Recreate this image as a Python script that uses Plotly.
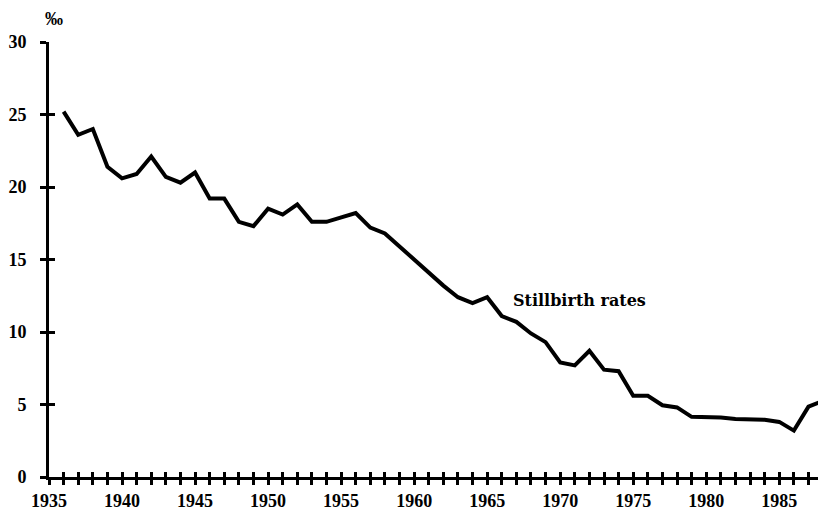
import plotly.graph_objects as go

years = list(range(1936, 1989))
stillbirth_rates = [
    25.2, 23.6, 24.0, 21.4, 20.6, 20.9, 22.1, 20.7, 20.3, 21.0,
    19.2, 19.2, 17.6, 17.3, 18.5, 18.1, 18.8, 17.6, 17.6, 17.9,
    18.2, 17.2, 16.8, 15.9, 15.0, 14.1, 13.2, 12.4, 12.0, 12.4,
    11.1, 10.7, 9.9, 9.3, 7.9, 7.7, 8.7, 7.4, 7.3, 5.6,
    5.6, 4.95, 4.8, 4.15, 4.15, 4.1, 4.0, 4.0, 3.95, 3.8,
    3.2, 4.85, 5.25,
]
x_tick_years = list(range(1935, 1989))
x_tick_text = [str(y) if y % 5 == 0 else "" for y in x_tick_years]
y_tick_vals = [0, 5, 10, 15, 20, 25, 30]
series_label = "Stillbirth rates"
unit_label = "‰"

FONT = "Liberation Serif"
LABEL_FONT = "DejaVu Serif"
X_RANGE = [1935, 1988.2]
Y_RANGE = [0, 30]

fig = go.Figure()
fig.add_trace(go.Scatter(
    x=years, y=stillbirth_rates, mode="lines",
    line=dict(color="black", width=4),
    showlegend=False, hoverinfo="skip", cliponaxis=False,
))
# invisible trace on overlay axes (inner half of crossing ticks)
fig.add_trace(go.Scatter(
    x=[years[0]], y=[stillbirth_rates[0]], xaxis="x2", yaxis="y2",
    mode="markers", marker=dict(opacity=0), showlegend=False, hoverinfo="skip",
))

axis_font = dict(family=FONT, size=18, color="black", weight="bold")

fig.update_layout(
    width=826, height=512,
    margin=dict(l=41, r=8, t=34, b=43, autoexpand=False),
    paper_bgcolor="white", plot_bgcolor="white",
    font=dict(family=FONT, color="black"),
    xaxis=dict(
        range=X_RANGE, tickmode="array", tickvals=x_tick_years, ticktext=x_tick_text,
        ticks="outside", ticklen=5, tickwidth=2.5, tickcolor="black",
        showline=True, linecolor="black", linewidth=3,
        showgrid=False, zeroline=False, tickfont=axis_font,
        ticklabelstandoff=0, automargin=False,
    ),
    yaxis=dict(
        range=Y_RANGE, tickmode="array", tickvals=y_tick_vals,
        ticks="outside", ticklen=6, tickwidth=2.5, tickcolor="black",
        showline=True, linecolor="black", linewidth=3,
        showgrid=False, zeroline=False, tickfont=axis_font,
        ticklabelstandoff=10, automargin=False,
    ),
    xaxis2=dict(
        range=X_RANGE, overlaying="x", tickmode="array", tickvals=x_tick_years,
        ticks="inside", ticklen=5, tickwidth=2.5, tickcolor="black",
        showticklabels=False, showgrid=False, zeroline=False, showline=False,
        side="bottom", anchor="y2", automargin=False,
    ),
    yaxis2=dict(
        range=Y_RANGE, overlaying="y", tickmode="array", tickvals=y_tick_vals,
        ticks="inside", ticklen=6, tickwidth=2.5, tickcolor="black",
        showticklabels=False, showgrid=False, zeroline=False, showline=False,
        side="left", anchor="x2", automargin=False,
    ),
    annotations=[
        dict(text="<b>" + series_label + "</b>", x=1966.6, y=12.2, xref="x", yref="y",
             xanchor="left", yanchor="middle", showarrow=False,
             font=dict(family=LABEL_FONT, size=16, color="black")),
        dict(text="<b>" + unit_label + "</b>", x=0.006, y=1, xref="paper", yref="paper",
             xanchor="center", yanchor="middle", yshift=23, showarrow=False,
             font=dict(family=FONT, size=18, color="black")),
    ],
)

fig.write_html("out.html")
